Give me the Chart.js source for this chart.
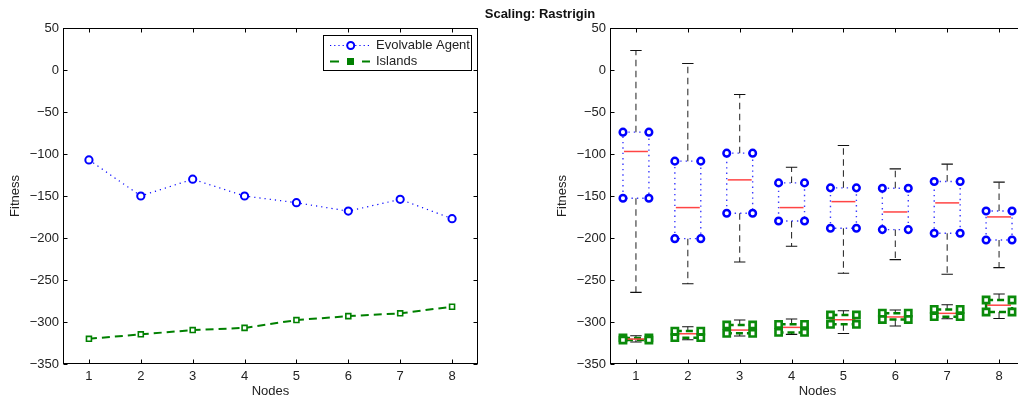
<!DOCTYPE html>
<html><head><meta charset="utf-8">
<script src="https://cdn.jsdelivr.net/npm/chart.js@4.4.0/dist/chart.umd.min.js"></script>
<style>
html,body{margin:0;padding:0;width:1018px;height:402px;overflow:hidden;background:#fff;}
#c1{position:absolute;left:0;top:0;}
#c2{position:absolute;left:547px;top:0;}
#title{position:absolute;left:440px;width:200px;top:6px;text-align:center;font:bold 13px "Liberation Sans",Arial,sans-serif;color:#111;line-height:15px;}
</style></head><body>
<canvas id="c1" width="509" height="402"></canvas>
<canvas id="c2" width="509" height="402"></canvas>
<div id="title">Scaling: Rastrigin</div>
<script>
// ---- data ----
const categories = [1, 2, 3, 4, 5, 6, 7, 8];
const yTicks = [50, 0, -50, -100, -150, -200, -250, -300, -350];
const seriesNames = ['Evolvable Agent', 'Islands'];

// left panel: mean fitness per node count
const evoMean = [-107, -150, -130, -150, -158, -168, -154, -177];
const islMean = [-320, -314.7, -309.6, -307, -297.7, -293, -289.7, -281.8];

// right panel: box plots (whisker high, q3, median, q1, whisker low)
const evoHigh = [23.3, 7.8, -29.1, -115.7, -89.9, -117.7, -112.1, -133.5];
const evoQ3   = [-74, -108.5, -99, -134.4, -140.3, -140.7, -132.8, -167.8];
const evoMed  = [-97, -163.8, -130.8, -163.8, -156.7, -169, -158.2, -174.9];
const evoQ1   = [-152.6, -200.8, -170.5, -179.7, -188.4, -190, -194.3, -202.3];
const evoLow  = [-264.7, -254.4, -228.5, -209.8, -242, -225.8, -243.2, -235.3];

const islHigh = [-316.3, -305.6, -297.7, -296.5, -286.6, -285.8, -279.4, -266.7];
const islQ3   = [-319, -310.8, -303.6, -302.8, -291.7, -289.5, -285, -273.8];
const islMed  = [-320.3, -314, -309.6, -306.4, -297.3, -294, -289.7, -280];
const islQ1   = [-321.5, -318.7, -313.5, -312.4, -302.8, -297, -293.7, -288.1];
const islLow  = [-323.8, -321.1, -316.7, -314.7, -313.7, -304.8, -296.1, -295.8];

// ---- styles ----
const BLUE = '#0000ff', GREEN = '#008000';
const BOX_HW = 0.25, CAP_HW = 0.11;
Chart.defaults.font.family = '"Liberation Sans", Arial, Helvetica, sans-serif';
Chart.defaults.font.size = 13;
Chart.defaults.color = '#222';
Chart.defaults.animation = false;

const minus = v => String(v).replace('-', '\u2212');

function scalesCfg() {
  return {
    x: {
      type: 'linear', min: 0.5, max: 8.5,
      afterBuildTicks: s => { s.ticks = categories.map(v => ({ value: v })); },
      afterFit: s => { s.height = 38; },
      grid: { display: false, drawTicks: false }, border: { display: false },
      ticks: { padding: 5, callback: v => String(v), maxRotation: 0, autoSkip: false },
      title: { display: true, text: 'Nodes', padding: { top: 0, bottom: 3.2 } }
    },
    y: {
      type: 'linear', min: -350, max: 50,
      afterBuildTicks: s => { s.ticks = yTicks.map(v => ({ value: v })); },
      afterFit: s => { s.width = 63; },
      grid: { display: false, drawTicks: false }, border: { display: false },
      ticks: { padding: 4, callback: v => minus(v), autoSkip: false },
      title: { display: true, text: 'Fitness', padding: { top: 8, bottom: 0 } }
    }
  };
}

const framePlugin = {
  id: 'frame',
  afterDraw(chart) {
    const { ctx, chartArea: a, scales: { x, y } } = chart;
    ctx.save();
    ctx.strokeStyle = '#000'; ctx.lineWidth = 1; ctx.setLineDash([]);
    const L = Math.round(a.left) + 0.5, R = Math.round(a.right) - 0.5;
    const T = Math.round(a.top) + 0.5, B = Math.round(a.bottom) - 0.5;
    ctx.strokeRect(L, T, R - L, B - T);
    ctx.beginPath();
    categories.forEach(v => {
      const px = Math.round(x.getPixelForValue(v)) + 0.5;
      ctx.moveTo(px, B); ctx.lineTo(px, B - 4);
      ctx.moveTo(px, T); ctx.lineTo(px, T + 4);
    });
    yTicks.forEach(v => {
      const py = Math.round(y.getPixelForValue(v)) + 0.5;
      ctx.moveTo(L, py); ctx.lineTo(L + 4, py);
      ctx.moveTo(R, py); ctx.lineTo(R - 4, py);
    });
    ctx.stroke();
    ctx.restore();
  }
};

const legendPlugin = {
  id: 'boxLegend',
  afterDraw(chart) {
    const ctx = chart.ctx;
    ctx.save();
    ctx.fillStyle = '#fff'; ctx.fillRect(323, 35, 149, 36);
    ctx.strokeStyle = '#000'; ctx.lineWidth = 1; ctx.setLineDash([]);
    ctx.strokeRect(323.5, 35.5, 148, 35);
    // row 1: dotted blue with circle
    let yy = 45.5;
    ctx.strokeStyle = BLUE; ctx.lineWidth = 1.2; ctx.setLineDash([1.2, 3]);
    ctx.beginPath(); ctx.moveTo(330, yy); ctx.lineTo(370, yy); ctx.stroke();
    ctx.setLineDash([]); ctx.lineWidth = 2;
    ctx.fillStyle = '#fff';
    ctx.beginPath(); ctx.arc(350.7, yy, 3.5, 0, Math.PI * 2); ctx.fill(); ctx.stroke();
    // row 2: dashed green with square
    yy = 61.5;
    ctx.strokeStyle = GREEN; ctx.lineWidth = 2;
    ctx.beginPath(); ctx.moveTo(330, yy); ctx.lineTo(339, yy); ctx.moveTo(362, yy); ctx.lineTo(370, yy); ctx.stroke();
    ctx.fillStyle = GREEN; ctx.fillRect(347, yy - 3.5, 7, 7);
    ctx.fillStyle = '#222'; ctx.font = '13px "Liberation Sans", Arial, sans-serif';
    ctx.textBaseline = 'middle'; ctx.textAlign = 'left';
    ctx.fillText(seriesNames[0], 376, 45.5);
    ctx.fillText(seriesNames[1], 376, 61.5);
    ctx.restore();
  }
};

new Chart(document.getElementById('c1'), {
  type: 'line',
  data: {
    datasets: [
      {
        label: seriesNames[0],
        data: categories.map((c, i) => ({ x: c, y: evoMean[i] })),
        borderColor: BLUE, borderWidth: 1.2, borderDash: [1.2, 4],
        pointStyle: 'circle', pointRadius: 3.6, pointBorderWidth: 2,
        pointBorderColor: BLUE, pointBackgroundColor: '#fff', tension: 0
      },
      {
        label: seriesNames[1],
        data: categories.map((c, i) => ({ x: c, y: islMean[i] })),
        borderColor: GREEN, borderWidth: 2, borderDash: [8, 5],
        pointStyle: 'rect', pointRadius: 3.5, pointBorderWidth: 1.6,
        pointBorderColor: GREEN, pointBackgroundColor: '#fff', tension: 0
      }
    ]
  },
  options: {
    responsive: false,
    layout: { padding: { top: 28, left: 0, right: 31, bottom: 0 } },
    plugins: { legend: { display: false }, tooltip: { enabled: false } },
    scales: scalesCfg()
  },
  plugins: [framePlugin, legendPlugin]
});

// ---- right panel: box plots ----
function boxLines(ctx, x, y, high, q3, med, q1, low, edge) {
  categories.forEach((c, i) => {
    const xc = x.getPixelForValue(c);
    const xl = x.getPixelForValue(c - BOX_HW), xr = x.getPixelForValue(c + BOX_HW);
    const cl = x.getPixelForValue(c - CAP_HW), cr = x.getPixelForValue(c + CAP_HW);
    const yH = y.getPixelForValue(high[i]), y3 = y.getPixelForValue(q3[i]);
    const yM = y.getPixelForValue(med[i]), y1 = y.getPixelForValue(q1[i]);
    const yL = y.getPixelForValue(low[i]);
    // whiskers (dashed)
    ctx.strokeStyle = '#333'; ctx.lineWidth = 1.1; ctx.setLineDash([6.5, 4.5]);
    ctx.beginPath();
    ctx.moveTo(xc, y3); ctx.lineTo(xc, yH);
    ctx.moveTo(xc, y1); ctx.lineTo(xc, yL);
    ctx.stroke();
    // caps
    ctx.setLineDash([]); ctx.strokeStyle = '#111';
    ctx.beginPath();
    ctx.moveTo(cl, yH); ctx.lineTo(cr, yH);
    ctx.moveTo(cl, yL); ctx.lineTo(cr, yL);
    ctx.stroke();
    // box
    ctx.strokeStyle = edge.color; ctx.lineWidth = edge.width; ctx.setLineDash(edge.dash);
    ctx.beginPath();
    ctx.moveTo(xl, y3); ctx.lineTo(xr, y3); ctx.lineTo(xr, y1); ctx.lineTo(xl, y1); ctx.closePath();
    ctx.stroke();
    // median
    ctx.setLineDash([]); ctx.strokeStyle = '#f44'; ctx.lineWidth = 1.5;
    ctx.beginPath(); ctx.moveTo(xl + 1, yM); ctx.lineTo(xr - 1, yM); ctx.stroke();
  });
}

const boxPlugin = {
  id: 'boxes',
  beforeDatasetsDraw(chart) {
    const { ctx, scales: { x, y } } = chart;
    ctx.save();
    boxLines(ctx, x, y, evoHigh, evoQ3, evoMed, evoQ1, evoLow, { color: '#3a3aff', width: 1.4, dash: [1.4, 4] });
    boxLines(ctx, x, y, islHigh, islQ3, islMed, islQ1, islLow, { color: GREEN, width: 2.5, dash: [7, 4] });
    ctx.restore();
  }
};

const corners = (q3, q1) => categories.flatMap((c, i) => [
  { x: c - BOX_HW, y: q3[i] }, { x: c + BOX_HW, y: q3[i] },
  { x: c - BOX_HW, y: q1[i] }, { x: c + BOX_HW, y: q1[i] }
]);

new Chart(document.getElementById('c2'), {
  type: 'scatter',
  data: {
    datasets: [
      {
        label: seriesNames[0], data: corners(evoQ3, evoQ1), showLine: false,
        pointStyle: 'circle', pointRadius: 3.3, pointBorderWidth: 2.5,
        pointBorderColor: BLUE, pointBackgroundColor: '#fff'
      },
      {
        label: seriesNames[1], data: corners(islQ3, islQ1), showLine: false,
        pointStyle: 'rect', pointRadius: 4.4, pointBorderWidth: 2.6,
        pointBorderColor: '#0a8a0a', pointBackgroundColor: '#fff'
      }
    ]
  },
  options: {
    responsive: false,
    layout: { padding: { top: 28, left: 0, right: 31, bottom: 0 } },
    plugins: { legend: { display: false }, tooltip: { enabled: false } },
    scales: scalesCfg()
  },
  plugins: [boxPlugin, framePlugin]
});
</script>
</body></html>
